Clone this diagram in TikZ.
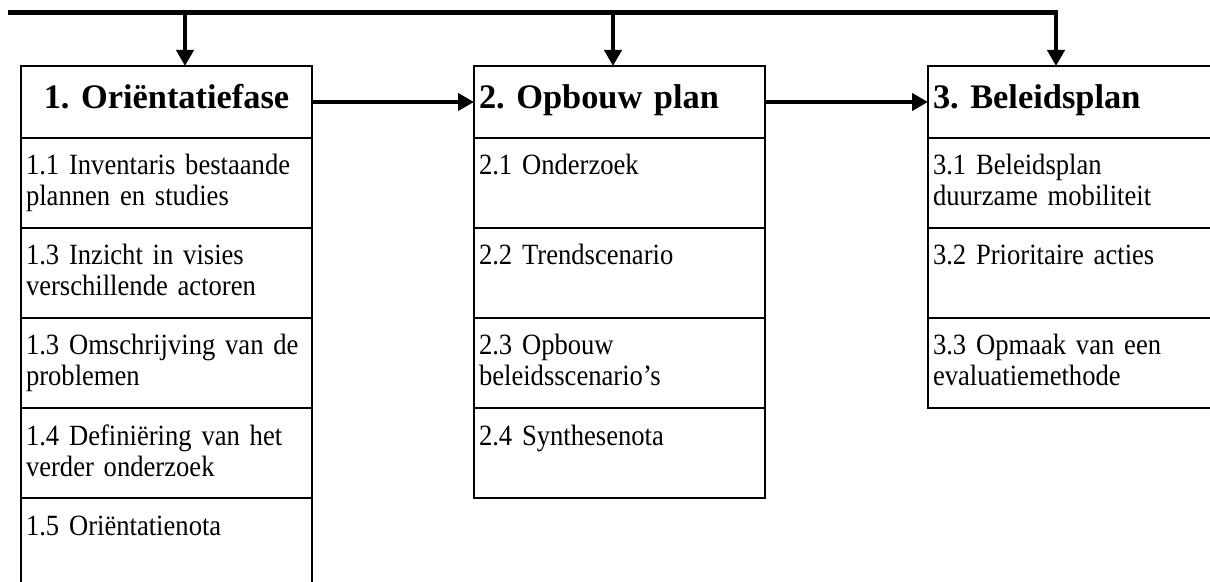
\documentclass[tikz,border=0pt]{standalone}
\usepackage{fontspec}
\setmainfont{Liberation Serif}
\newfontfamily\subfont[FakeStretch=0.905]{Liberation Serif}
\frenchspacing
\usetikzlibrary{positioning,arrows.meta}

\begin{document}
\begin{tikzpicture}[x=0.5pt,y=-0.5pt,
        box/.style={draw,line width=1.1pt,rectangle,inner xsep=2.5pt,inner ysep=0pt,outer sep=0pt,text width=140.5pt},
        phase/.style={box,font=\fontsize{17.2}{20}\selectfont\bfseries,text height=21.5pt,text depth=14.5pt},
        sub/.style={box,align=left,font=\subfont\fontsize{14.7}{15.5}\selectfont,text height=18.5pt,text depth=26.5pt},
        flow/.style={line width=2.25pt,line join=miter,-{Triangle[length=8pt,width=8.5pt]}}]
            \useasboundingbox (0,0) rectangle (1210,582);
            % fase 1
            \node[phase,align=center,anchor=north west] (h1) at (21,66) {1. Oriëntatiefase};
            \node[sub,below=0pt of h1] (s11) {1.1 Inventaris bestaande\\plannen en studies};
            \node[sub,below=0pt of s11] (s12) {1.3 Inzicht in visies\\verschillende actoren};
            \node[sub,below=0pt of s12] (s13) {1.3 Omschrijving van de\\problemen};
            \node[sub,below=0pt of s13] (s14) {1.4 Definiëring van het\\verder onderzoek};
            \node[sub,below=0pt of s14] (s15) {1.5 Oriëntatienota};
            % fase 2
            \node[phase,align=left,anchor=north west] (h2) at (474,66) {2. Opbouw plan};
            \node[sub,below=0pt of h2] (s21) {2.1 Onderzoek};
            \node[sub,below=0pt of s21] (s22) {2.2 Trendscenario};
            \node[sub,below=0pt of s22] (s23) {2.3 Opbouw\\beleidsscenario’s};
            \node[sub,below=0pt of s23] (s24) {2.4 Synthesenota};
            % fase 3
            \node[phase,align=left,anchor=north west] (h3) at (928,66) {3. Beleidsplan};
            \node[sub,below=0pt of h3] (s31) {3.1 Beleidsplan\\duurzame mobiliteit};
            \node[sub,below=0pt of s31] (s32) {3.2 Prioritaire acties};
            \node[sub,below=0pt of s32] (s33) {3.3 Opmaak van een\\evaluatiemethode};
            % pijlen
            \coordinate (start) at (8,12.5);
            \coordinate (t1) at (185,12.5);
            \coordinate (t2) at (613,12.5);
            \coordinate (t3) at (1056,12.5);
            \draw[flow] (start) -- (t3) -- (t3 |- h3.north);
            \draw[flow] (t1) -- (t1 |- h1.north);
            \draw[flow] (t2) -- (t2 |- h2.north);
            \draw[flow] (h1) -- (h2);
            \draw[flow] (h2) -- (h3);
        \end{tikzpicture}
\end{document}
